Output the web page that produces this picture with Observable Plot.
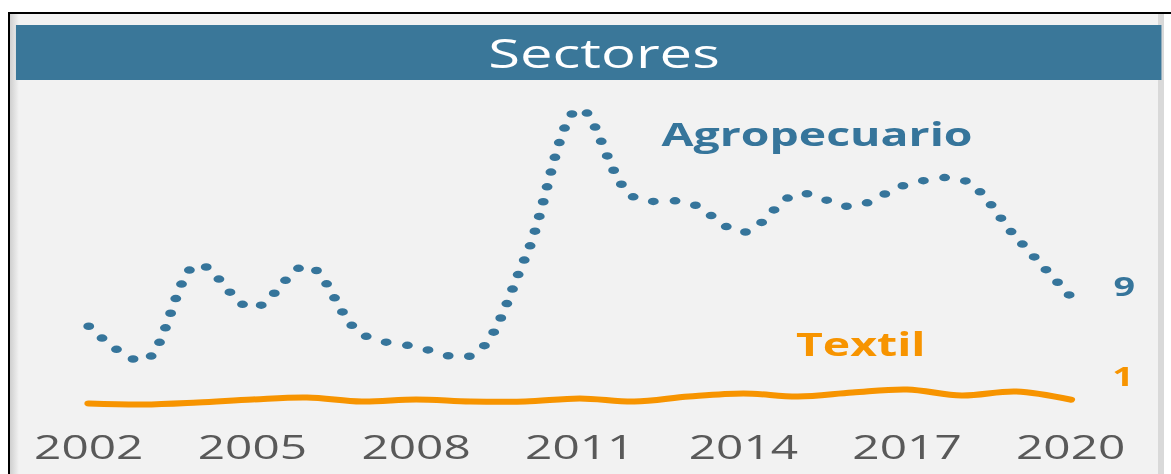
<!DOCTYPE html>
<html>
<head>
<meta charset="utf-8">
<script src="https://cdn.jsdelivr.net/npm/d3@7"></script>
<script src="https://cdn.jsdelivr.net/npm/@observablehq/plot@0.6"></script>
<style>
  html, body { margin: 0; padding: 0; background: #ffffff; }
  #frame { position: absolute; left: 0; top: 0; width: 1171px; height: 474px; overflow: hidden; background: #fff; }
  .abs { position: absolute; }
  #title { display: flex; align-items: center; justify-content: center; color: #ffffff;
           font-family: "Open Sans", sans-serif; font-size: 40px; box-sizing: border-box; }
</style>
</head>
<body>
<div id="frame">
  <div class="abs" style="left:10px;top:14px;width:1154px;height:460px;background:#f2f2f2;"></div>
  <div class="abs" style="left:10px;top:14px;width:9px;height:460px;background:linear-gradient(to right,#cfcfcf,#f2f2f2);"></div>
  <div class="abs" style="left:1158px;top:14px;width:6px;height:460px;background:#d9d9d9;"></div>
  <div class="abs" style="left:8px;top:12px;width:1163px;height:2px;background:#000;"></div>
  <div class="abs" style="left:8px;top:12px;width:2px;height:462px;background:#000;"></div>
  <div id="scaled" class="abs" style="left:0;top:0;height:474px;transform-origin:0 0;">
    <div id="title" class="abs">Sectores</div>
    <div id="chart" class="abs" style="left:0;top:82px;"></div>
  </div>
</div>
<script>
// ---- data ----
const years = [2002, 2003, 2004, 2005, 2006, 2007, 2008, 2009, 2010, 2011,
               2012, 2013, 2014, 2015, 2016, 2017, 2018, 2019, 2020];
const agropecuario = [6.7, 4.0, 11.5, 8.1, 11.4, 6.1, 5.1, 4.4, 12.0, 23.6,
                      16.7, 16.3, 14.0, 17.0, 16.0, 17.7, 18.1, 13.6, 9.0];
const textil = [0.70, 0.62, 0.78, 1.01, 1.17, 0.85, 1.01, 0.85, 0.85, 1.09,
                0.85, 1.24, 1.48, 1.24, 1.55, 1.79, 1.32, 1.63, 1.0];
const tickYears = [2002, 2005, 2008, 2011, 2014, 2017, 2020];
const seriesNames = ["Agropecuario", "Textil"];
const seriesColors = ["#36759b", "#f79400"];
const seriesLabelPos = [{year: 2015.35, value: 21.5}, {year: 2016.15, value: 5.2}];

// ---- layout ----
const S = 1.45;                 // horizontal stretch of the reference
const W = 1171 / S;
const scaled = document.getElementById("scaled");
scaled.style.width = W + "px";
scaled.style.transform = `scaleX(${S})`;
const title = document.getElementById("title");
title.style.left = (16 / S) + "px";
title.style.top = "25px";
title.style.width = ((1162 - 16) / S) + "px";
title.style.height = "55px";
title.style.background = "#3a7799";
title.style.paddingLeft = (30 / S) + "px";

const agroRows = years.map((y, i) => ({year: y, value: agropecuario[i]}));
const texRows = years.map((y, i) => ({year: y, value: textil[i]}));

const xL = 88 / S, xR = 1070 / S;
const chart = Plot.plot({
  width: W,
  height: 392,
  marginLeft: xL,
  marginRight: W - xR,
  marginTop: 8.125,
  marginBottom: 62,
  style: {fontFamily: "'Open Sans', sans-serif", background: "transparent", color: "#595959", overflow: "visible"},
  x: {domain: [2002, 2020], axis: null},
  y: {domain: [0, 25], axis: null},
  marks: [
    Plot.axisX({ticks: tickYears, tickFormat: d => String(d), tickSize: 0, tickPadding: 23, fontSize: 33, color: "#595959", label: null}),
    Plot.line(texRows, {x: "year", y: "value", stroke: seriesColors[1], strokeWidth: 6, curve: "catmull-rom", strokeLinecap: "round"}),
    Plot.line(agroRows, {x: "year", y: "value", stroke: seriesColors[0], strokeWidth: 7.5, curve: "catmull-rom",
                         strokeDasharray: "0 15", strokeLinecap: "round"}),
    Plot.text([seriesLabelPos[0]], {x: "year", y: "value", text: () => seriesNames[0], fill: seriesColors[0], fontSize: 32, fontWeight: "bold"}),
    Plot.text([seriesLabelPos[1]], {x: "year", y: "value", text: () => seriesNames[1], fill: seriesColors[1], fontSize: 32, fontWeight: "bold"}),
    Plot.text(agroRows, Plot.selectLast({x: "year", y: "value", text: d => String(Math.round(d.value)), dx: 37, dy: -9,
                         fill: seriesColors[0], fontSize: 26, fontWeight: "bold"})),
    Plot.text(texRows, Plot.selectLast({x: "year", y: "value", text: d => String(Math.round(d.value)), dx: 36, dy: -22,
                         fill: seriesColors[1], fontSize: 26, fontWeight: "bold"}))
  ]
});
document.getElementById("chart").appendChild(chart);
</script>
</body>
</html>
